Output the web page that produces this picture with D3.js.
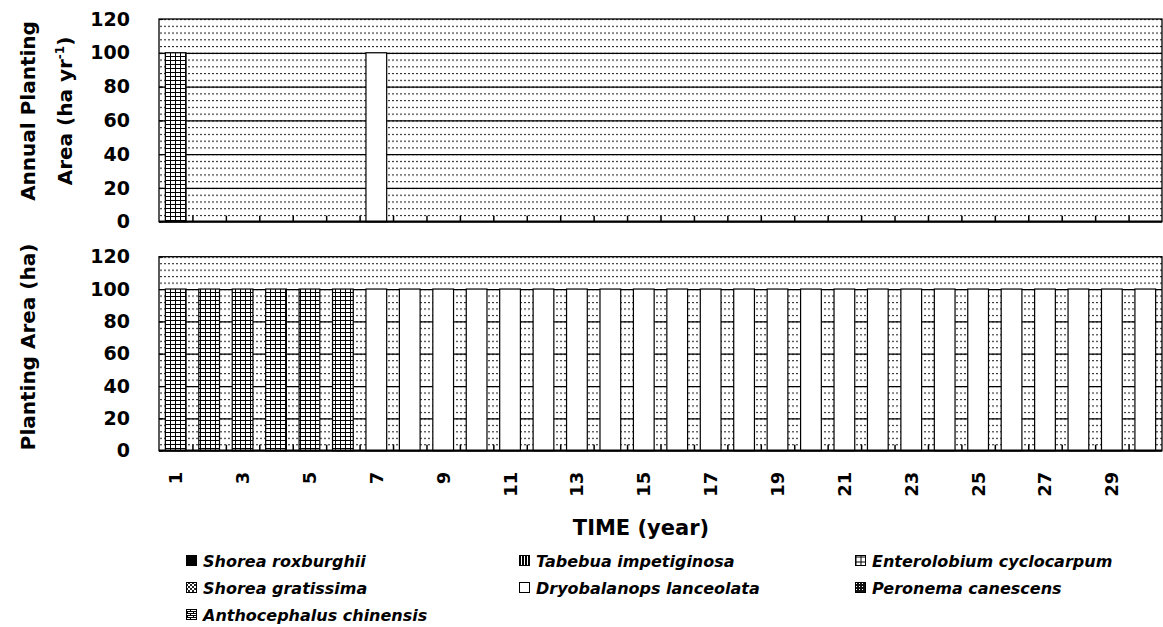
<!DOCTYPE html>
<html>
<head>
<meta charset="utf-8">
<script src="https://cdn.jsdelivr.net/npm/d3@7/dist/d3.min.js"></script>
<style>
  body { margin: 0; background: #fff; }
  svg text { font-family: "DejaVu Sans", sans-serif; font-weight: bold; fill: #000; }
</style>
</head>
<body>
<div id="chart"></div>
<script>
/* global d3 */
const years = [1,2,3,4,5,6,7,8,9,10,11,12,13,14,15,16,17,18,19,20,21,22,23,24,25,26,27,28,29,30];
const yTicks = [0,20,40,60,80,100,120];
const xLabels = [1,3,5,7,9,11,13,15,17,19,21,23,25,27,29];

// annual planting area (ha/yr)
const annualEnterolobium = [100,0,0,0,0,0,0,0,0,0,0,0,0,0,0,0,0,0,0,0,0,0,0,0,0,0,0,0,0,0];
const annualDryobalanops = [0,0,0,0,0,0,100,0,0,0,0,0,0,0,0,0,0,0,0,0,0,0,0,0,0,0,0,0,0,0];
// planting area standing (ha)
const areaEnterolobium = [100,100,100,100,100,100,0,0,0,0,0,0,0,0,0,0,0,0,0,0,0,0,0,0,0,0,0,0,0,0];
const areaDryobalanops = [0,0,0,0,0,0,100,100,100,100,100,100,100,100,100,100,100,100,100,100,100,100,100,100,100,100,100,100,100,100];

const legendNames = [
  "Shorea roxburghii", "Tabebua impetiginosa", "Enterolobium cyclocarpum",
  "Shorea gratissima", "Dryobalanops lanceolata", "Peronema canescens",
  "Anthocephalus chinensis"
];
const legendFills = [
  "#000", "url(#p-tabebua)", "url(#p-grid-small)",
  "url(#p-gratissima)", "#fff", "url(#p-peronema)",
  "url(#p-antho)"
];

let svg = d3.select("#chart").append("svg")
  .attr("width", 1163)
  .attr("height", 627);
let defs = svg.append("defs");

// bar / legend patterns
let grid = defs.append("pattern").attr("id", "p-grid")
  .attr("patternUnits", "userSpaceOnUse").attr("width", 5).attr("height", 4);
grid.append("rect").attr("width", 5).attr("height", 4).attr("fill", "#fff");
grid.append("path").attr("d", "M0,0.5H5M0.5,0V4").attr("stroke", "#000").attr("stroke-width", 1);

let gridSmall = defs.append("pattern").attr("id", "p-grid-small")
  .attr("patternUnits", "userSpaceOnUse").attr("width", 5).attr("height", 5).attr("x", 855.5).attr("y", 555.5);
gridSmall.append("rect").attr("width", 5).attr("height", 5).attr("fill", "#fff");
gridSmall.append("path").attr("d", "M0,0.5H5M0.5,0V5").attr("stroke", "#000").attr("stroke-width", 1);

let tab = defs.append("pattern").attr("id", "p-tabebua")
  .attr("patternUnits", "userSpaceOnUse").attr("width", 3).attr("height", 3);
tab.append("rect").attr("width", 3).attr("height", 3).attr("fill", "#000");
tab.append("rect").attr("x", 2).attr("width", 1).attr("height", 3).attr("fill", "#fff");

let grat = defs.append("pattern").attr("id", "p-gratissima")
  .attr("patternUnits", "userSpaceOnUse").attr("width", 4).attr("height", 4);
grat.append("rect").attr("width", 4).attr("height", 4).attr("fill", "#fff");
grat.append("rect").attr("width", 2).attr("height", 2).attr("fill", "#222");
grat.append("rect").attr("x", 2).attr("y", 2).attr("width", 2).attr("height", 2).attr("fill", "#222");

let per = defs.append("pattern").attr("id", "p-peronema")
  .attr("patternUnits", "userSpaceOnUse").attr("width", 3).attr("height", 3);
per.append("rect").attr("width", 3).attr("height", 3).attr("fill", "#111");
per.append("rect").attr("x", 1).attr("y", 1).attr("width", 1).attr("height", 1).attr("fill", "#fff");

let antho = defs.append("pattern").attr("id", "p-antho")
  .attr("patternUnits", "userSpaceOnUse").attr("width", 6).attr("height", 4);
antho.append("rect").attr("width", 6).attr("height", 4).attr("fill", "#fff");
antho.append("path").attr("d", "M0,0.5H6M0,2.5H6M1.5,0.5V2.5M4.5,2.5V4").attr("stroke", "#000").attr("stroke-width", 1);

const speciesFill = {
  "Enterolobium cyclocarpum": "url(#p-grid)",
  "Dryobalanops lanceolata": "#fff"
};

let left = 159, right = 1162;
let x = d3.scaleBand().domain(years).range([left, right]).paddingInner(0.38).paddingOuter(0.19);
let xEdge = d3.scaleLinear().domain([0, years.length]).range([left, right]);

let panel = (top, bottom, ent, dry, id) => {
  let y = d3.scaleLinear().domain([0, 120]).range([bottom, top]);
  let rowH = (y(0) - y(20)) / 5;

  // dotted plot-area fill
  let dots = defs.append("pattern").attr("id", "dots-" + id)
    .attr("patternUnits", "userSpaceOnUse")
    .attr("x", left + 1).attr("y", y(120))
    .attr("width", 4).attr("height", rowH);
  dots.append("rect").attr("width", 2).attr("height", 1.1).attr("fill", "#2a2a2a");

  let g = svg.append("g");
  g.append("rect")
    .attr("x", left).attr("y", y(120))
    .attr("width", right - left).attr("height", y(0) - y(120))
    .attr("fill", "url(#dots-" + id + ")");

  // gridlines
  g.append("g")
    .attr("transform", `translate(${left},0)`)
    .call(d3.axisLeft(y).tickValues([20, 40, 60, 80, 100]).tickSize(-(right - left)).tickFormat(""))
    .call(a => a.select(".domain").remove())
    .selectAll("line").attr("stroke", "#000").attr("stroke-width", 1.2);

  // stacked bars
  let rows = years.map((yr, i) => ({
    year: yr,
    "Enterolobium cyclocarpum": ent[i],
    "Dryobalanops lanceolata": dry[i]
  }));
  let layers = d3.stack().keys(["Enterolobium cyclocarpum", "Dryobalanops lanceolata"])(rows);
  layers.forEach(layer => {
    g.append("g").selectAll("rect")
      .data(layer.filter(d => d[1] > d[0]))
      .enter().append("rect")
      .attr("x", d => x(d.data.year))
      .attr("y", d => y(d[1]))
      .attr("width", x.bandwidth())
      .attr("height", d => y(d[0]) - y(d[1]))
      .attr("fill", speciesFill[layer.key])
      .attr("stroke", "#000")
      .attr("stroke-width", 1.2);
  });

  // category boundary ticks (inside)
  g.append("g")
    .attr("transform", `translate(0,${y(0)})`)
    .call(d3.axisBottom(xEdge).tickValues(years.slice(0, -1)).tickSize(-6).tickFormat(""))
    .call(a => a.select(".domain").remove())
    .selectAll("line").attr("stroke", "#000").attr("stroke-width", 1.5);

  // frame
  g.append("rect")
    .attr("x", left).attr("y", y(120))
    .attr("width", right - left).attr("height", y(0) - y(120))
    .attr("fill", "none").attr("stroke", "#000").attr("stroke-width", 1.3);
  g.append("line")
    .attr("x1", left).attr("x2", right)
    .attr("y1", y(0)).attr("y2", y(0))
    .attr("stroke", "#000").attr("stroke-width", 2.2);

  // y axis
  let yAxis = g.append("g")
    .attr("transform", `translate(${left},0)`)
    .call(d3.axisLeft(y).tickValues(yTicks).tickSize(-4).tickPadding(29));
  yAxis.select(".domain").remove();
  yAxis.selectAll("line").attr("stroke", "#000");
  yAxis.selectAll("text")
    .style("font-size", "19px")
    .style("font-family", "DejaVu Sans")
    .style("font-weight", "bold");

  return y;
};

let yTop = panel(19, 221.7, annualEnterolobium, annualDryobalanops, "top");
let yBot = panel(256.7, 450.7, areaEnterolobium, areaDryobalanops, "bot");

// x tick labels on the lower panel
let xAxis = svg.append("g")
  .attr("transform", `translate(0,${yBot(0)})`)
  .call(d3.axisBottom(x).tickValues(xLabels).tickSize(0));
xAxis.select(".domain").remove();
xAxis.selectAll("text")
  .attr("transform", "rotate(-90)")
  .attr("text-anchor", "end")
  .attr("x", -21)
  .attr("y", 0)
  .attr("dy", "0.36em")
  .style("font-size", "18px")
  .style("font-family", "DejaVu Sans")
  .style("font-weight", "bold");

svg.append("text")
  .attr("x", 641).attr("y", 535)
  .attr("text-anchor", "middle")
  .style("font-size", "21px")
  .text("TIME (year)");

// y axis titles
svg.append("text")
  .attr("transform", "translate(35,111) rotate(-90)")
  .attr("text-anchor", "middle")
  .style("font-size", "20px")
  .text("Annual Planting");
let t2 = svg.append("text")
  .attr("transform", "translate(72,111) rotate(-90)")
  .attr("text-anchor", "middle")
  .style("font-size", "20px");
t2.append("tspan").text("Area (ha yr");
t2.append("tspan").attr("dy", -8).style("font-size", "12px").text("-1");
t2.append("tspan").attr("dy", 8).text(")");

svg.append("text")
  .attr("transform", "translate(35,347) rotate(-90)")
  .attr("text-anchor", "middle")
  .style("font-size", "20px")
  .text("Planting Area (ha)");

// legend
let colX = [186, 519, 855];
let rowY = [561, 588, 615];
let legend = svg.append("g").selectAll("g")
  .data(legendNames)
  .enter().append("g")
  .attr("transform", (d, i) => `translate(${colX[i % 3]},${rowY[Math.floor(i / 3)]})`);
legend.append("rect")
  .attr("x", 0.5).attr("y", -5.5)
  .attr("width", 10).attr("height", 10)
  .attr("fill", (d, i) => legendFills[i])
  .attr("stroke", "#000").attr("stroke-width", 1);
legend.append("text")
  .attr("x", 17).attr("y", 0)
  .attr("dy", "0.36em")
  .style("font-size", "16px")
  .style("font-style", "italic")
  .text(d => d);
</script>
</body>
</html>
